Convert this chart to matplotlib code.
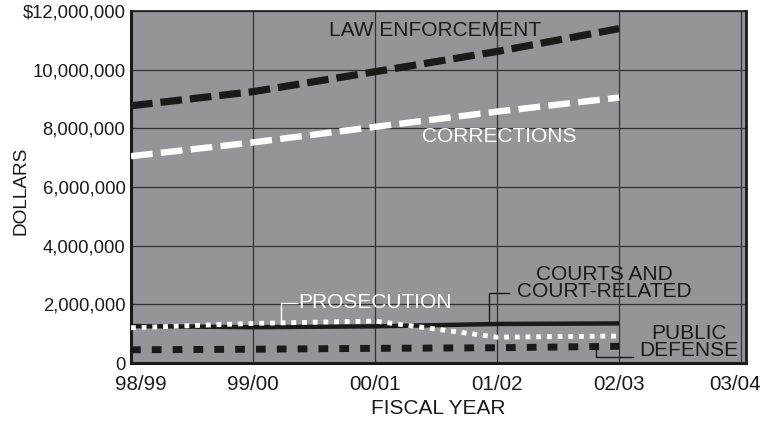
import matplotlib
matplotlib.use("Agg")
import matplotlib.pyplot as plt
import matplotlib.transforms as mtransforms
from matplotlib.ticker import FuncFormatter

plt.rcParams['font.family'] = ['Liberation Sans', 'DejaVu Sans']

years = ["98/99", "99/00", "00/01", "01/02", "02/03", "03/04"]
x_data = [0, 1, 2, 3, 4]
law_enforcement = [8.77e6, 9.25e6, 9.93e6, 10.62e6, 11.40e6]
corrections = [7.05e6, 7.52e6, 8.05e6, 8.57e6, 9.05e6]
courts = [1.26e6, 1.22e6, 1.25e6, 1.33e6, 1.35e6]
prosecution = [1.20e6, 1.35e6, 1.43e6, 0.88e6, 0.92e6]
public_defense = [0.45e6, 0.47e6, 0.50e6, 0.52e6, 0.57e6]

fig = plt.figure(figsize=(7.77, 4.22), dpi=100)
ax = fig.add_axes([131/777, 1-363/422, (746-131)/777, (363-11)/422])
ax.set_facecolor('#939598')

ax.plot(x_data, law_enforcement, color='#1a1a1a', lw=5.2, dashes=(3.0, 1.1), dash_capstyle='butt', zorder=5)
ax.plot(x_data, corrections, color='white', lw=4.6, dashes=(3.4, 1.3), dash_capstyle='butt', zorder=5)
ax.plot(x_data, courts, color='#1a1a1a', lw=3.2, solid_capstyle='butt', zorder=4)
ax.plot(x_data, prosecution, color='white', lw=3.5, dashes=(1.0, 1.2), dash_capstyle='butt', zorder=5)
ax.plot(x_data, public_defense, color='#1a1a1a', lw=5.0, dashes=(1.4, 1.6), dash_capstyle='butt', zorder=5)

ax.set_xlim(0.04, 5.04)
ax.set_ylim(0, 12e6)
ax.set_xticks(range(len(years)))
ax.set_xticklabels(years)
ax.set_yticks([0, 2e6, 4e6, 6e6, 8e6, 10e6, 12e6])
ax.yaxis.set_major_formatter(FuncFormatter(lambda v, p: '$12,000,000' if v >= 12e6 else ('0' if v == 0 else f'{int(v):,}')))
ax.grid(True, color='#333333', lw=0.9)
ax.set_axisbelow(True)
ax.tick_params(length=0, colors='#1a1a1a')
ax.tick_params(axis='y', labelsize=13.3, pad=4)
ax.tick_params(axis='x', labelsize=14.8, pad=9)
labels = ax.get_xticklabels()
labels[0].set_transform(labels[0].get_transform() + mtransforms.ScaledTranslation(10/100, 0, fig.dpi_scale_trans))
labels[-1].set_transform(labels[-1].get_transform() + mtransforms.ScaledTranslation(-6/100, 0, fig.dpi_scale_trans))
for s in ['left', 'bottom']:
    ax.spines[s].set_linewidth(2.2)
ax.spines['top'].set_linewidth(1.2)
ax.spines['right'].set_linewidth(2.0)
for s in ax.spines.values():
    s.set_color('#1a1a1a')

ax.set_xlabel('FISCAL YEAR', fontsize=15, color='#1a1a1a', labelpad=3)
fig.text(21/777, 1-191/422, 'DOLLARS', rotation=90, ha='center', va='center', fontsize=13.7, color='#1a1a1a')

fs = 15
ax.text(2.49, 11.33e6, 'LAW ENFORCEMENT', ha='center', va='center', fontsize=fs, color='#1a1a1a')
ax.text(3.02, 7.71e6, 'CORRECTIONS', ha='center', va='center', fontsize=fs, color='white')
ax.text(3.88, 2.73e6, 'COURTS AND\nCOURT-RELATED', ha='center', va='center', fontsize=fs, color='#1a1a1a', linespacing=0.85)
ax.plot([2.93, 2.93, 3.1], [1.33e6, 2.39e6, 2.39e6], color='#1a1a1a', lw=1.0, zorder=6)
ax.text(1.37, 2.05e6, 'PROSECUTION', ha='left', va='center', fontsize=fs, color='white')
ax.plot([1.23, 1.23, 1.36], [1.4e6, 2.05e6, 2.05e6], color='white', lw=1.0, zorder=6)
ax.text(4.57, 0.72e6, 'PUBLIC\nDEFENSE', ha='center', va='center', fontsize=fs, color='#1a1a1a', linespacing=0.85)
ax.plot([3.81, 3.81, 4.11], [0.55e6, 0.2e6, 0.2e6], color='#1a1a1a', lw=1.0, zorder=6)

fig.savefig('out.png', dpi=100)
